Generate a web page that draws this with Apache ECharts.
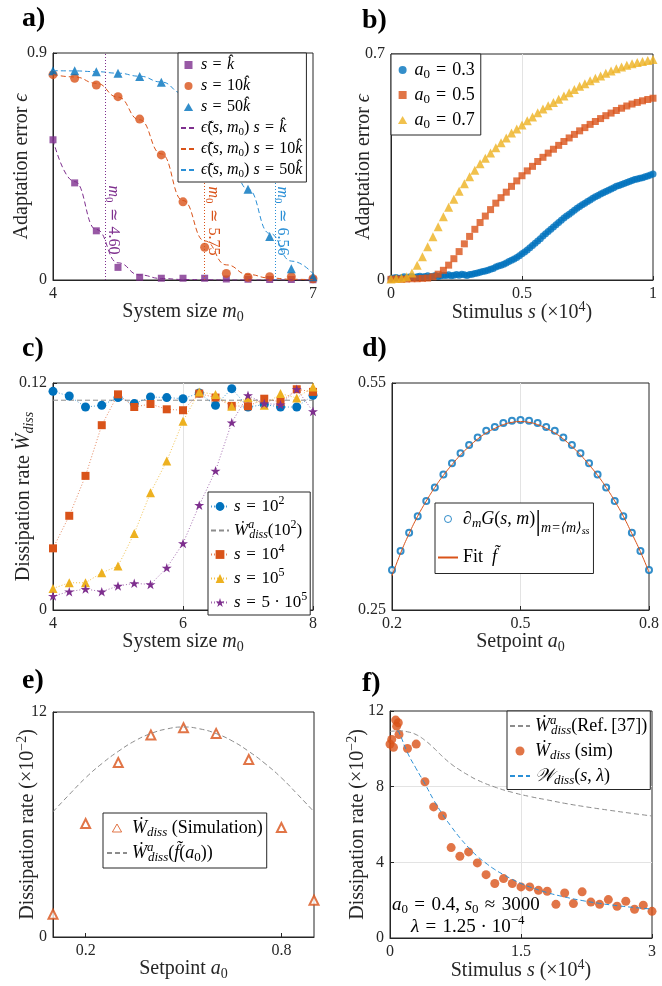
<!DOCTYPE html>
<html>
<head>
<meta charset="utf-8">
<title>Adaptation error and dissipation rate</title>
<script src="https://cdn.jsdelivr.net/npm/echarts@6/dist/echarts.min.js"></script>
</head>
<body style="margin:0;background:#fff;">
<div id="chart" style="width:662px;height:986px;"></div>
<script>
// ---------- panel a: adaptation error vs system size ----------
var aSize   = [4, 4.25, 4.5, 4.75, 5, 5.25, 5.5, 5.75, 6, 6.25, 6.5, 6.75, 7];
var aErrK   = [0.556, 0.385, 0.195, 0.050, 0.011, 0.007, 0.007, 0.007, 0.004, 0.003, 0.002, 0.002, 0.001];
var aErr10K = [0.814, 0.800, 0.773, 0.727, 0.638, 0.496, 0.310, 0.130, 0.026, 0.011, 0.013, 0.013, 0.005];
var aErr50K = [0.830, 0.830, 0.826, 0.820, 0.807, 0.784, 0.740, 0.655, 0.520, 0.360, 0.172, 0.045, 0.013];
var aFitK   = [0.556, 0.390, 0.200, 0.068, 0.020, 0.006, 0.002, 0.001, 0, 0, 0, 0, 0];
var aFit10K = [0.815, 0.805, 0.780, 0.725, 0.635, 0.500, 0.315, 0.155, 0.060, 0.022, 0.008, 0.003, 0.001];
var aFit50K = [0.830, 0.829, 0.826, 0.820, 0.808, 0.785, 0.740, 0.655, 0.520, 0.360, 0.185, 0.075, 0.025];
var aCritical = [4.60, 5.75, 6.56];
var aCriticalText = ['4.60', '5.75', '6.56'];

// ---------- panel b: adaptation error vs stimulus (x 10^4) ----------
var bStim1 = [0, 0.01, 0.02, 0.03, 0.04, 0.05, 0.06, 0.07, 0.08, 0.09, 0.1,
  0.11, 0.12, 0.13, 0.14, 0.15, 0.16, 0.17, 0.18, 0.19, 0.2,
  0.21, 0.22, 0.23, 0.24, 0.25, 0.26, 0.27, 0.28, 0.29, 0.3,
  0.31, 0.32, 0.33, 0.34, 0.35, 0.36, 0.37, 0.38, 0.39, 0.4,
  0.41, 0.42, 0.43, 0.44, 0.45, 0.46, 0.47, 0.48, 0.49, 0.5,
  0.51, 0.52, 0.53, 0.54, 0.55, 0.56, 0.57, 0.58, 0.59, 0.6,
  0.61, 0.62, 0.63, 0.64, 0.65, 0.66, 0.67, 0.68, 0.69, 0.7,
  0.71, 0.72, 0.73, 0.74, 0.75, 0.76, 0.77, 0.78, 0.79, 0.8,
  0.81, 0.82, 0.83, 0.84, 0.85, 0.86, 0.87, 0.88, 0.89, 0.9,
  0.91, 0.92, 0.93, 0.94, 0.95, 0.96, 0.97, 0.98, 0.99, 1];
var bErr03 = [0.004, 0.006, 0.008, 0.005, 0.007, 0.010, 0.006, 0.009, 0.011, 0.008, 0.010,
  0.012, 0.009, 0.011, 0.013, 0.010, 0.012, 0.014, 0.011, 0.013, 0.015,
  0.014, 0.016, 0.013, 0.015, 0.017, 0.015, 0.018, 0.016, 0.014, 0.017,
  0.018, 0.020, 0.022, 0.024, 0.026, 0.028, 0.030, 0.033, 0.036, 0.040,
  0.043, 0.046, 0.049, 0.053, 0.057, 0.061, 0.065, 0.070, 0.075, 0.081,
  0.087, 0.093, 0.100, 0.107, 0.114, 0.121, 0.128, 0.136, 0.143, 0.150,
  0.157, 0.164, 0.171, 0.178, 0.185, 0.192, 0.198, 0.204, 0.210, 0.216,
  0.222, 0.228, 0.233, 0.238, 0.243, 0.248, 0.253, 0.258, 0.262, 0.266,
  0.270, 0.274, 0.278, 0.282, 0.286, 0.290, 0.293, 0.296, 0.299, 0.302,
  0.305, 0.308, 0.311, 0.313, 0.315, 0.317, 0.320, 0.322, 0.325, 0.328];
var bStim2 = [0, 0.02, 0.04, 0.06, 0.08, 0.1, 0.12, 0.14, 0.16, 0.18, 0.2,
  0.22, 0.24, 0.26, 0.28, 0.3, 0.32, 0.34, 0.36, 0.38, 0.4,
  0.42, 0.44, 0.46, 0.48, 0.5, 0.52, 0.54, 0.56, 0.58, 0.6,
  0.62, 0.64, 0.66, 0.68, 0.7, 0.72, 0.74, 0.76, 0.78, 0.8,
  0.82, 0.84, 0.86, 0.88, 0.9, 0.92, 0.94, 0.96, 0.98, 1];
var bErr05 = [0.002, 0.003, 0.002, 0.003, 0.004, 0.004, 0.005, 0.006, 0.010, 0.018, 0.030,
  0.046, 0.066, 0.088, 0.112, 0.135, 0.157, 0.178, 0.198, 0.218, 0.238,
  0.255, 0.272, 0.290, 0.307, 0.323, 0.338, 0.352, 0.367, 0.380, 0.393,
  0.405, 0.417, 0.429, 0.440, 0.451, 0.462, 0.472, 0.482, 0.491, 0.500,
  0.509, 0.517, 0.525, 0.532, 0.539, 0.545, 0.550, 0.555, 0.559, 0.563];
var bErr07 = [0.003, 0.005, 0.006, 0.010, 0.022, 0.046, 0.072, 0.103, 0.134, 0.165, 0.196,
  0.225, 0.250, 0.275, 0.298, 0.320, 0.340, 0.360, 0.377, 0.393, 0.410,
  0.425, 0.440, 0.455, 0.468, 0.480, 0.493, 0.505, 0.518, 0.530, 0.540,
  0.550, 0.560, 0.570, 0.580, 0.590, 0.600, 0.608, 0.617, 0.625, 0.632,
  0.640, 0.647, 0.654, 0.660, 0.665, 0.670, 0.674, 0.677, 0.680, 0.683];

// ---------- panel c: dissipation rate vs system size ----------
var cSize = [4, 4.25, 4.5, 4.75, 5, 5.25, 5.5, 5.75, 6, 6.25, 6.5, 6.75, 7, 7.25, 7.5, 7.75, 8];
var cW1e2 = [0.1156, 0.1131, 0.1073, 0.1082, 0.1123, 0.1091, 0.1126, 0.1123, 0.1117, 0.1147, 0.1082, 0.1170, 0.1073, 0.1086, 0.1073, 0.1073, 0.1135];
var cW1e4 = [0.0326, 0.0498, 0.0709, 0.0977, 0.1140, 0.1073, 0.1089, 0.1061, 0.1056, 0.1144, 0.1123, 0.1079, 0.1077, 0.1117, 0.1100, 0.1167, 0.1153];
var cW1e5 = [0.0114, 0.0144, 0.0144, 0.0197, 0.0232, 0.0405, 0.0620, 0.0788, 0.0998, 0.1153, 0.1139, 0.1077, 0.1123, 0.1082, 0.1144, 0.1121, 0.1179];
var cW5e5 = [0.0074, 0.0097, 0.0111, 0.0097, 0.0127, 0.0141, 0.0135, 0.0223, 0.0352, 0.0554, 0.0736, 0.0991, 0.1135, 0.1091, 0.1086, 0.1167, 0.1050];
var cRefX = [4, 8];
var cRef = [0.1109, 0.1109];

// ---------- panel d: derivative of G vs setpoint ----------
var dSetpoint = [0.2, 0.22, 0.24, 0.26, 0.28, 0.3, 0.32, 0.34, 0.36, 0.38, 0.4,
  0.42, 0.44, 0.46, 0.48, 0.5, 0.52, 0.54, 0.56, 0.58, 0.6,
  0.62, 0.64, 0.66, 0.68, 0.7, 0.72, 0.74, 0.76, 0.78, 0.8];
var dDerivative = [0.303, 0.328, 0.352, 0.374, 0.394, 0.412, 0.429, 0.444, 0.457, 0.468, 0.478,
  0.487, 0.492, 0.497, 0.500, 0.501, 0.500, 0.497, 0.492, 0.487, 0.478,
  0.468, 0.457, 0.444, 0.429, 0.412, 0.394, 0.374, 0.352, 0.328, 0.303];
var dFit = [0.295, 0.325, 0.351, 0.374, 0.394, 0.412, 0.428, 0.442, 0.455, 0.466, 0.476,
  0.484, 0.490, 0.495, 0.498, 0.499, 0.498, 0.495, 0.490, 0.484, 0.476,
  0.466, 0.455, 0.442, 0.428, 0.412, 0.394, 0.374, 0.351, 0.327, 0.300];

// ---------- panel e: dissipation rate vs setpoint (x 10^-2) ----------
var eSetpoint = [0.1, 0.2, 0.3, 0.4, 0.5, 0.6, 0.7, 0.8, 0.9];
var eSim = [1.21, 6.05, 9.31, 10.77, 11.16, 10.86, 9.47, 5.84, 1.96];
var eTheoryX = [0.1, 0.15, 0.2, 0.25, 0.3, 0.35, 0.4, 0.45, 0.5, 0.55, 0.6, 0.65, 0.7, 0.75, 0.8, 0.85, 0.9];
var eTheory = [6.68, 7.60, 8.49, 9.25, 9.90, 10.45, 10.85, 11.10, 11.20, 11.10, 10.85, 10.45, 9.90, 9.25, 8.49, 7.60, 6.68];

// ---------- panel f: dissipation rate vs stimulus ----------
var fStim = [0, 0.02, 0.04, 0.065, 0.076, 0.095, 0.103, 0.2, 0.3, 0.4, 0.5, 0.6, 0.7, 0.8, 0.9, 1.0,
  1.1, 1.2, 1.3, 1.4, 1.5, 1.6, 1.7, 1.8, 1.9, 2.0, 2.1, 2.2, 2.3, 2.4, 2.5, 2.6, 2.7, 2.8, 2.9, 3.0];
var fSim = [10.25, 10.5, 10.08, 11.52, 11.2, 11.38, 10.76, 10.02, 10.25, 8.26, 6.93, 6.46, 4.78, 4.32, 4.55, 3.97,
  3.35, 2.88, 3.14, 2.88, 2.70, 2.70, 2.52, 2.47, 1.78, 2.38, 1.82, 2.44, 1.90, 1.78, 2.03, 1.68, 1.94, 1.52, 1.73, 1.41];
var fRefX = [0, 0.1, 0.2, 0.3, 0.4, 0.5, 0.6, 0.7, 0.8, 0.9, 1.0, 1.2, 1.4, 1.6, 1.8, 2.0, 2.25, 2.5, 2.75, 3.0];
var fRef = [10.92, 10.95, 10.9, 10.75, 10.45, 10.05, 9.6, 9.2, 8.88, 8.6, 8.35, 7.98, 7.7, 7.48, 7.3, 7.12, 6.93, 6.76, 6.6, 6.45];
var fFitX = [0.08, 0.1, 0.2, 0.3, 0.4, 0.5, 0.6, 0.7, 0.8, 0.9, 1.0, 1.1, 1.2, 1.3, 1.4, 1.5, 1.6, 1.8, 2.0, 2.2, 2.4, 2.6, 2.8, 3.0];
var fFit = [10.95, 10.9, 9.8, 8.95, 8.15, 7.3, 6.55, 5.9, 5.3, 4.78, 4.32, 3.95, 3.62, 3.35, 3.1, 2.88, 2.7, 2.4, 2.17, 1.98, 1.83, 1.71, 1.61, 1.53];

// ---------- styles ----------
var FONT = "'Liberation Serif', 'DejaVu Serif', serif";
var INK = '#262626';
var BLUE = '#0072BD', ORANGE = '#D95319', YELLOW = '#EDB120', PURPLE = '#7E2F8E', GRAY = '#8c8c8c', LBLUE = '#2a8fd6';
var DASH = [5, 3], DOT = [1, 2];
var STAR = 'path://M50,0L61.17,34.63L97.55,34.55L68.07,55.87L79.39,90.45L50,69L20.61,90.45L31.93,55.87L2.45,34.55L38.83,34.63Z';
var SQUARE = 'path://M0,0L1,0L1,1L0,1Z';
var TRI = 'path://M0.5,0L1,0.866L0,0.866Z';
var EQ = '\u2004=\u2004', APPROX = '\u2004\u2248\u2004', SIM = '\u2004\u2243\u2004';

function pairs(xs, ys) {
  return xs.map(function (x, i) { return [x, ys[i]]; });
}

// rich text pieces: italic, sub/superscripts
function rich(size) {
  var s = Math.round(size * 0.7);
  return {
    i: { fontFamily: FONT, fontStyle: 'italic', fontSize: size },
    sub: { fontFamily: FONT, fontSize: s, padding: [Math.round(size * 0.5), 0, 0, 0] },
    subi: { fontFamily: FONT, fontStyle: 'italic', fontSize: s, padding: [Math.round(size * 0.5), 0, 0, 0] },
    sup: { fontFamily: FONT, fontSize: s, padding: [0, 0, Math.round(size * 0.62), 0] },
    supa: { fontFamily: FONT, fontStyle: 'italic', fontSize: s, width: 1, padding: [0, 0, Math.round(size * 0.62), 0] },
    bar: { fontFamily: FONT, fontSize: Math.round(size * 1.6), padding: [Math.round(size * 0.35), 0, 0, 0] },
    subsm: { fontFamily: FONT, fontStyle: 'italic', fontSize: Math.round(size * 0.8), padding: [Math.round(size * 1.0), 0, 0, 0] },
    subss: { fontFamily: FONT, fontStyle: 'italic', fontSize: Math.round(size * 0.55), padding: [Math.round(size * 1.35), 0, 0, 0] }
  };
}

function valueAxis(gi, min, max, ticks, name, gap, split) {
  return {
    type: 'value', gridIndex: gi, min: min, max: max,
    name: name || '', nameLocation: 'middle', nameGap: gap, nameMoveOverlap: false,
    nameTextStyle: { fontFamily: FONT, fontSize: 20, color: INK, rich: rich(20) },
    axisLine: { show: true, onZero: false, lineStyle: { color: INK, width: 1 } },
    axisTick: { show: true, inside: true, length: 4, customValues: ticks, lineStyle: { color: INK } },
    axisLabel: { show: true, customValues: ticks, margin: 6, color: INK, fontFamily: FONT, fontSize: 16 },
    splitLine: { show: !!split, showMinLine: false, showMaxLine: false, lineStyle: { color: '#e3e3e3', width: 1 } }
  };
}

function vline(x, color) {
  return {
    silent: true, symbol: 'none', label: { show: false },
    lineStyle: { color: color, type: DOT, width: 1 },
    data: [{ xAxis: x }]
  };
}

function legendBox(names, labels, left, top, fs, lh, gap, pad, iw, ih) {
  return {
    orient: 'vertical', left: left, top: top, data: names,
    itemWidth: iw, itemHeight: ih, itemGap: gap, padding: pad,
    borderColor: INK, borderWidth: 1, borderRadius: 0, backgroundColor: '#fff',
    selectedMode: false, z: 10,
    textStyle: { fontFamily: FONT, fontSize: fs, lineHeight: lh, color: '#000', rich: rich(fs) },
    formatter: function (n) { return labels[n]; }
  };
}

var KHAT = 'k\u0302';
var EPST = '\u03f5\u0303';
var WDOT = '\u1E86';
var FT = 'f\u0303';

var labelsA = {
  aK: '{i|s}' + EQ + '{i|' + KHAT + '}',
  a10K: '{i|s}' + EQ + '10{i|' + KHAT + '}',
  a50K: '{i|s}' + EQ + '50{i|' + KHAT + '}',
  aFitK: '{i|' + EPST + '}({i|s}, {i|m}{sub|0}) {i|s}' + EQ + '{i|' + KHAT + '}',
  aFit10K: '{i|' + EPST + '}({i|s}, {i|m}{sub|0}) {i|s}' + EQ + '10{i|' + KHAT + '}',
  aFit50K: '{i|' + EPST + '}({i|s}, {i|m}{sub|0}) {i|s}' + EQ + '50{i|' + KHAT + '}'
};
var labelsB = {
  b03: '{i|a}{sub|0}' + EQ + '0.3', b05: '{i|a}{sub|0}' + EQ + '0.5', b07: '{i|a}{sub|0}' + EQ + '0.7'
};
var labelsC = {
  c1e2: '{i|s}' + EQ + '10{sup|2}',
  cRef: '{i|' + WDOT + '}{supa|a}{subi|diss}(10{sup|2})',
  c1e4: '{i|s}' + EQ + '10{sup|4}',
  c1e5: '{i|s}' + EQ + '10{sup|5}',
  c5e5: '{i|s}' + EQ + '5 \u00b7 10{sup|5}'
};
var labelsD = {
  dDeriv: '{i|\u2202}{subi|m}{i|G}({i|s}, {i|m}){bar||}{subsm|m=\u27e8m\u27e9}{subss|ss}',
  dFit: 'Fit  {i|' + FT + '}'
};
var labelsE = {
  eSim: '{i|' + WDOT + '}{subi|diss} (Simulation)',
  eTheory: '{i|' + WDOT + '}{supa|a}{subi|diss}({i|' + FT + '}({i|a}{sub|0}))'
};
var labelsF = {
  fRef: '{i|' + WDOT + '}{supa|a}{subi|diss}(Ref.\u2009[37])',
  fSim: '{i|' + WDOT + '}{subi|diss} (sim)',
  fFit: '{i|\ud835\udcb2}{subi|diss}({i|s}, {i|\u03bb})'
};

function panelLabel(t, x, y) {
  return { type: 'text', left: x, top: y, z: 20,
    style: { text: t, fontFamily: FONT, fontWeight: 'bold', fontSize: 28, fill: '#000' } };
}
function rotatedNote(t, x, y, color) {
  return { type: 'text', x: x, y: y, rotation: -Math.PI / 2, z: 20,
    style: { text: '{i|m}{sub|0}' + SIM + t, fontFamily: FONT, fontSize: 16, fill: color,
      align: 'center', verticalAlign: 'middle', rich: rich(16) } };
}
function note(t, x, y) {
  return { type: 'text', x: x, y: y, z: 20,
    style: { text: t, fontFamily: FONT, fontSize: 19, fill: '#000',
      align: 'left', verticalAlign: 'middle', rich: rich(19) } };
}

var gridBase = { show: true, borderColor: INK, borderWidth: 1, backgroundColor: 'transparent', containLabel: false };

var option = {
  animation: false,
  backgroundColor: '#fff',
  grid: [
    Object.assign({ left: 53, top: 53, width: 260, height: 227 }, gridBase),
    Object.assign({ left: 391, top: 54, width: 262, height: 226 }, gridBase),
    Object.assign({ left: 53, top: 383, width: 260, height: 227 }, gridBase),
    Object.assign({ left: 392, top: 383, width: 261, height: 227 }, gridBase),
    Object.assign({ left: 53, top: 712, width: 261, height: 225 }, gridBase),
    Object.assign({ left: 390, top: 711, width: 262, height: 227 }, gridBase)
  ],
  xAxis: [
    valueAxis(0, 4, 7, [4, 7], 'System size {i|m}{sub|0}', 20, false),
    valueAxis(1, 0, 1, [0, 0.5, 1], 'Stimulus {i|s} (\u00d710{sup|4})', 20, true),
    valueAxis(2, 4, 8, [4, 6, 8], 'System size {i|m}{sub|0}', 20, true),
    valueAxis(3, 0.2, 0.8, [0.2, 0.5, 0.8], 'Setpoint {i|a}{sub|0}', 20, true),
    valueAxis(4, 0.1, 0.9, [0.2, 0.8], 'Setpoint {i|a}{sub|0}', 20, true),
    valueAxis(5, 0, 3, [0, 1.5, 3], 'Stimulus {i|s} (\u00d710{sup|4})', 20, true)
  ],
  yAxis: [
    valueAxis(0, 0, 0.9, [0, 0.9], 'Adaptation error {i|\u03f5}', 21, false),
    valueAxis(1, 0, 0.7, [0, 0.7], 'Adaptation error {i|\u03f5}', 17, false),
    valueAxis(2, 0, 0.12, [0, 0.12], 'Dissipation rate {i|' + WDOT + '}{subi|diss}', 17, false),
    valueAxis(3, 0.25, 0.55, [0.25, 0.55], '', 20, false),
    valueAxis(4, 0, 12, [0, 12], 'Dissipation rate (\u00d710{sup|\u22122})', 12, false),
    valueAxis(5, 0, 12, [0, 4, 8, 12], 'Dissipation rate (\u00d710{sup|\u22122})', 19, true)
  ],
  legend: [
    legendBox([{ name: 'aK', icon: SQUARE }, { name: 'a10K', icon: 'circle' }, { name: 'a50K', icon: TRI },
      { name: 'aFitK', itemStyle: { opacity: 0 } }, { name: 'aFit10K', itemStyle: { opacity: 0 } },
      { name: 'aFit50K', itemStyle: { opacity: 0 } }], labelsA, 178, 53, 16, 20, 1, [2, 4, 2, 2], 15, 8),
    legendBox([{ name: 'b03', icon: 'circle' }, { name: 'b05', icon: SQUARE }, { name: 'b07', icon: TRI }],
      labelsB, 391, 54, 18, 22, 3, [5, 6, 4, 7], 14, 8),
    legendBox(['c1e2', { name: 'cRef', itemStyle: { opacity: 0 } }, 'c1e4', 'c1e5', 'c5e5'],
      labelsC, 208, 492, 17, 21, 2, [3, 3, 2, 2], 18, 11),
    legendBox([{ name: 'dDeriv', icon: 'circle', itemStyle: { color: '#fff', borderColor: BLUE, borderWidth: 1 } },
      { name: 'dFit', itemStyle: { opacity: 0 } }], labelsD, 435, 503, 18, 26, 8, [3, 4, 3, 2], 20, 7),
    legendBox([{ name: 'eSim', icon: TRI, itemStyle: { color: '#fff', borderColor: ORANGE, borderWidth: 1 } },
      { name: 'eTheory', itemStyle: { opacity: 0 } }], labelsE, 103, 813, 18, 22, 2, [4, 4, 4, 3], 20, 8),
    legendBox([{ name: 'fRef', itemStyle: { opacity: 0 } }, { name: 'fSim', icon: 'circle' },
      { name: 'fFit', itemStyle: { opacity: 0 } }], labelsF, 507, 711, 18, 23, 2, [3, 3, 2, 2], 20, 9)
  ],
  series: [
    // a
    { name: 'aFitK', type: 'line', xAxisIndex: 0, yAxisIndex: 0, data: pairs(aSize, aFitK), smooth: true, smoothMonotone: 'x',
      symbol: 'none', lineStyle: { color: PURPLE, width: 1, type: DASH }, itemStyle: { color: PURPLE }, markLine: vline(aCritical[0], PURPLE) },
    { name: 'aFit10K', type: 'line', xAxisIndex: 0, yAxisIndex: 0, data: pairs(aSize, aFit10K), smooth: true, smoothMonotone: 'x',
      symbol: 'none', lineStyle: { color: ORANGE, width: 1, type: DASH }, itemStyle: { color: ORANGE }, markLine: vline(aCritical[1], ORANGE) },
    { name: 'aFit50K', type: 'line', xAxisIndex: 0, yAxisIndex: 0, data: pairs(aSize, aFit50K), smooth: true, smoothMonotone: 'x',
      symbol: 'none', lineStyle: { color: LBLUE, width: 1, type: DASH }, itemStyle: { color: LBLUE }, markLine: vline(aCritical[2], LBLUE) },
    { name: 'aK', type: 'scatter', xAxisIndex: 0, yAxisIndex: 0, data: pairs(aSize, aErrK), symbol: 'rect', symbolSize: 7, itemStyle: { color: PURPLE } },
    { name: 'a10K', type: 'scatter', xAxisIndex: 0, yAxisIndex: 0, data: pairs(aSize, aErr10K), symbol: 'circle', symbolSize: 9, itemStyle: { color: ORANGE } },
    { name: 'a50K', type: 'scatter', xAxisIndex: 0, yAxisIndex: 0, data: pairs(aSize, aErr50K), symbol: 'triangle', symbolSize: 9, itemStyle: { color: BLUE } },
    // b
    { name: 'b03', type: 'scatter', xAxisIndex: 1, yAxisIndex: 1, data: pairs(bStim1, bErr03), symbol: 'circle', symbolSize: 7, itemStyle: { color: BLUE } },
    { name: 'b05', type: 'scatter', xAxisIndex: 1, yAxisIndex: 1, data: pairs(bStim2, bErr05), symbol: 'rect', symbolSize: 7, itemStyle: { color: ORANGE } },
    { name: 'b07', type: 'scatter', xAxisIndex: 1, yAxisIndex: 1, data: pairs(bStim2, bErr07), symbol: 'triangle', symbolSize: 9, itemStyle: { color: YELLOW } },
    // c
    { name: 'cRef', type: 'line', xAxisIndex: 2, yAxisIndex: 2, data: pairs(cRefX, cRef), symbol: 'none',
      lineStyle: { color: GRAY, width: 1, type: DASH }, itemStyle: { color: GRAY } },
    { name: 'c1e2', type: 'line', xAxisIndex: 2, yAxisIndex: 2, data: pairs(cSize, cW1e2), symbol: 'circle', symbolSize: 9,
      lineStyle: { color: BLUE, width: 1, type: DOT, opacity: 0.7 }, itemStyle: { color: BLUE } },
    { name: 'c1e4', type: 'line', xAxisIndex: 2, yAxisIndex: 2, data: pairs(cSize, cW1e4), symbol: 'rect', symbolSize: 8,
      lineStyle: { color: ORANGE, width: 1, type: DOT, opacity: 0.7 }, itemStyle: { color: ORANGE } },
    { name: 'c1e5', type: 'line', xAxisIndex: 2, yAxisIndex: 2, data: pairs(cSize, cW1e5), symbol: 'triangle', symbolSize: 9,
      lineStyle: { color: YELLOW, width: 1, type: DOT, opacity: 0.8 }, itemStyle: { color: YELLOW } },
    { name: 'c5e5', type: 'line', xAxisIndex: 2, yAxisIndex: 2, data: pairs(cSize, cW5e5), symbol: STAR, symbolSize: 10, symbolKeepAspect: true,
      lineStyle: { color: PURPLE, width: 1, type: DOT, opacity: 0.7 }, itemStyle: { color: PURPLE } },
    // d
    { name: 'dFit', type: 'line', xAxisIndex: 3, yAxisIndex: 3, data: pairs(dSetpoint, dFit), smooth: true, symbol: 'none',
      lineStyle: { color: ORANGE, width: 1 }, itemStyle: { color: ORANGE } },
    { name: 'dDeriv', type: 'scatter', xAxisIndex: 3, yAxisIndex: 3, data: pairs(dSetpoint, dDerivative), symbol: 'emptyCircle', symbolSize: 6,
      itemStyle: { color: BLUE, borderColor: '#2a86c8', borderWidth: 0.8 } },
    // e
    { name: 'eTheory', type: 'line', xAxisIndex: 4, yAxisIndex: 4, data: pairs(eTheoryX, eTheory), smooth: true, symbol: 'none',
      lineStyle: { color: GRAY, width: 1, type: DASH }, itemStyle: { color: GRAY } },
    { name: 'eSim', type: 'scatter', xAxisIndex: 4, yAxisIndex: 4, data: pairs(eSetpoint, eSim), symbol: 'emptyTriangle', symbolSize: 9,
      itemStyle: { color: ORANGE, borderColor: ORANGE, borderWidth: 1 } },
    // f
    { name: 'fRef', type: 'line', xAxisIndex: 5, yAxisIndex: 5, data: pairs(fRefX, fRef), smooth: true, symbol: 'none',
      lineStyle: { color: GRAY, width: 1, type: DASH }, itemStyle: { color: GRAY } },
    { name: 'fSim', type: 'scatter', xAxisIndex: 5, yAxisIndex: 5, data: pairs(fStim, fSim), symbol: 'circle', symbolSize: 9,
      itemStyle: { color: ORANGE } },
    { name: 'fFit', type: 'line', xAxisIndex: 5, yAxisIndex: 5, data: pairs(fFitX, fFit), smooth: true, symbol: 'none',
      lineStyle: { color: LBLUE, width: 1, type: DASH }, itemStyle: { color: LBLUE } }
  ],
  graphic: [
    panelLabel('a)', 22, 5), panelLabel('b)', 362, 7),
    panelLabel('c)', 22, 335), panelLabel('d)', 362, 335),
    panelLabel('e)', 22, 667), panelLabel('f)', 362, 670),
    rotatedNote(aCriticalText[0], 113, 220, PURPLE),
    rotatedNote(aCriticalText[1], 213, 221, ORANGE),
    rotatedNote(aCriticalText[2], 282, 221, LBLUE),
    note('{i|a}{sub|0}' + EQ + '0.4, {i|s}{sub|0}' + APPROX + '3000', 392, 905),
    note('{i|\u03bb}' + EQ + '1.25 \u00b7 10{sup|\u22124}', 411, 927)
  ]
};

var chart = echarts.init(document.getElementById('chart'));
chart.setOption(option);
</script>
</body>
</html>
